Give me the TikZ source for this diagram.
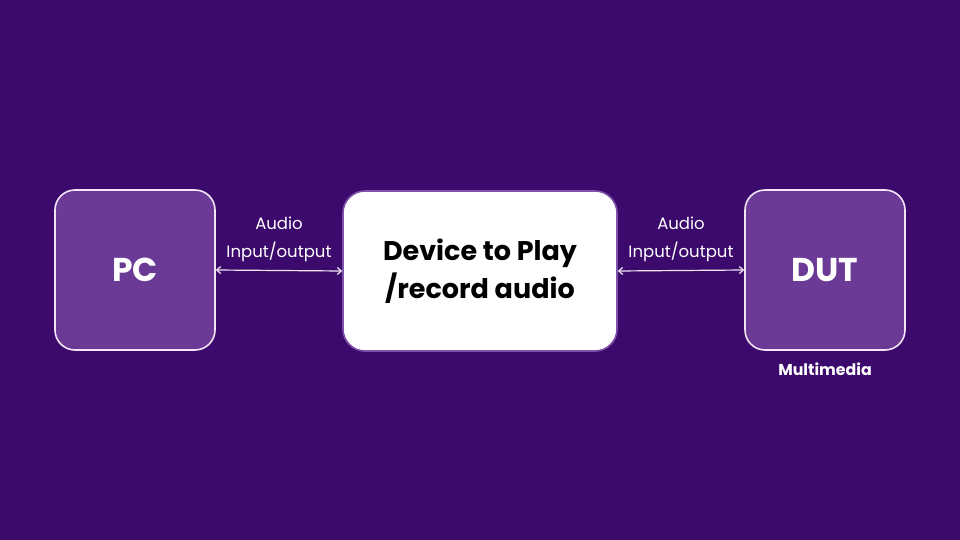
\documentclass[tikz,border=0pt]{standalone}
\usepackage{fontspec}
\setmainfont{Poppins}
\usetikzlibrary{arrows.meta}
\definecolor{bg}{HTML}{3C0A6C}
\definecolor{boxfill}{HTML}{6A3A96}
\definecolor{centerborder}{HTML}{7E52AA}
\definecolor{linecol}{HTML}{F2E6F4}
\begin{document}
\begin{tikzpicture}[x=1pt,y=-1pt,
  sidebox/.style={draw=linecol,line width=1.6pt,fill=boxfill,rounded corners=20pt,minimum width=160pt,minimum height=160pt,inner sep=0pt,text=white,font=\fontsize{33}{36}\selectfont\bfseries},
  midbox/.style={draw=centerborder,line width=1.6pt,fill=white,rounded corners=22pt,minimum width=274pt,minimum height=160pt,inner sep=0pt,text=black,align=center,font=\fontsize{27}{38}\selectfont\bfseries},
  lbl/.style={text=white,font=\fontsize{16.5}{28}\selectfont,align=center,inner sep=0pt},
  conn/.style={draw=linecol,line width=1.2pt,{Straight Barb[length=4pt,width=7pt]}-{Straight Barb[length=4pt,width=7pt]}}
]
\fill[bg] (0,0) rectangle (960,540);
\useasboundingbox (0,0) rectangle (960,540);
\node[sidebox] (pc) at (135,270) {PC};
\node[sidebox] (dut) at (825,270) {DUT};
\node[midbox] (dev) at (480,271) {Device to Play\\/record audio};
\draw[conn] (pc.east) -- (dev.west);
\draw[conn] (dev.east) -- (dut.west);
\node[lbl] (l1) at (279,239) {Audio\\Input/output};
\node[lbl] (l2) at (681,239) {Audio\\Input/output};
\node[text=white,font=\fontsize{15.8}{18}\selectfont\bfseries,inner sep=0pt] (mm) at (825,369) {Multimedia};
\end{tikzpicture}
\end{document}
